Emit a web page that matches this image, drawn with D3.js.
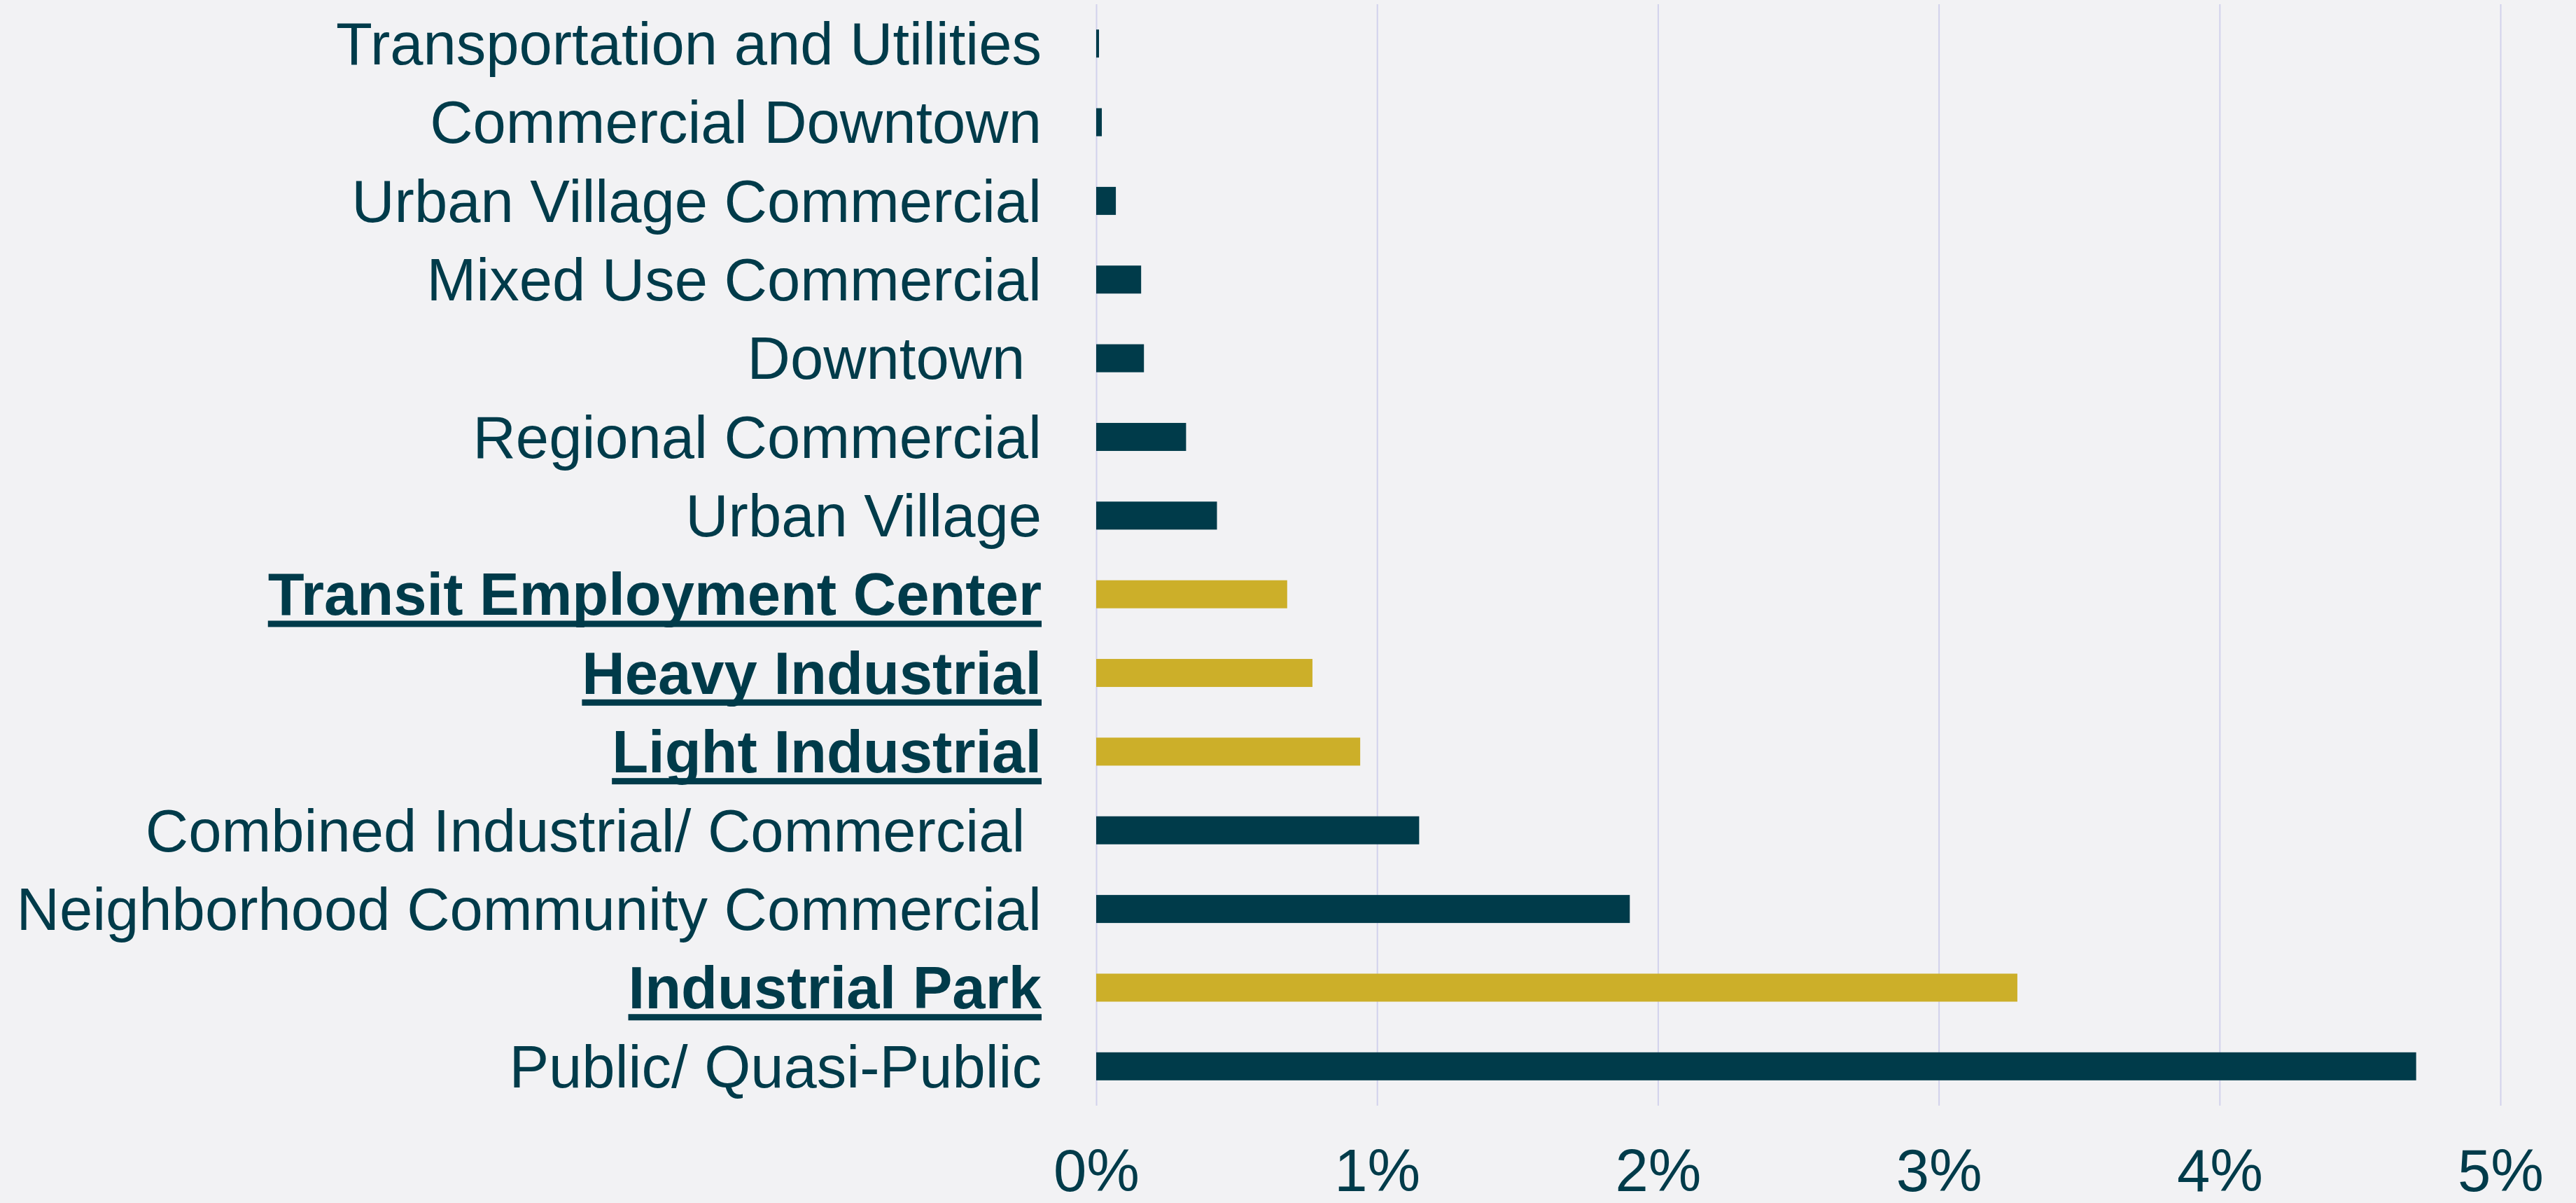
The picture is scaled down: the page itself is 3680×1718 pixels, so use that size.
<!DOCTYPE html>
<html>
<head>
<meta charset="utf-8">
<script src="https://cdn.jsdelivr.net/npm/d3@7"></script>
<style>
  html, body { margin: 0; padding: 0; background: #F2F2F4; }
  svg { display: block; }
  text { font-family: "Liberation Sans", Arial, sans-serif; fill: #003B4A; }
</style>
</head>
<body>
<div class="chart__container"></div>
<script>
/*-------------------------------------INIT-------------------------------------*/

const CHART__WIDTH = 3680;
const CHART__HEIGHT = 1718;

const MARGIN = {
    top: 6,
    right: 108,
    bottom: 139,
    left: 1566
}

const CATEGORIES = [
    "Transportation and Utilities",
    "Commercial Downtown",
    "Urban Village Commercial",
    "Mixed Use Commercial",
    "Downtown ",
    "Regional Commercial",
    "Urban Village",
    "Transit Employment Center",
    "Heavy Industrial",
    "Light Industrial",
    "Combined Industrial/ Commercial ",
    "Neighborhood Community Commercial",
    "Industrial Park",
    "Public/ Quasi-Public"
];

// share of total, in percent
const VALUES = [0.01, 0.02, 0.07, 0.16, 0.17, 0.32, 0.43, 0.68, 0.77, 0.94, 1.15, 1.90, 3.28, 4.70];

// industrial categories are highlighted (gold, bold, underlined)
const HIGHLIGHT = ["Transit Employment Center", "Heavy Industrial", "Light Industrial", "Industrial Park"];

const X_TICKS = [0, 1, 2, 3, 4, 5];

const COLOR_DARK = "#003B4A";
const COLOR_GOLD = "#CCAF29";
const COLOR_GRID = "#D2D2EC";


/*-------------------------------------Graph-------------------------------------*/

const SVG = d3.select(".chart__container").append("svg");

SVG.attr("width", CHART__WIDTH).attr("height", CHART__HEIGHT);

const plotBottom = CHART__HEIGHT - MARGIN.bottom;

const x = d3.scaleLinear()
    .domain([0, 5])
    .range([MARGIN.left, CHART__WIDTH - MARGIN.right]);

const y = d3.scaleBand()
    .domain(CATEGORIES)
    .range([MARGIN.top, plotBottom])
    .paddingInner(0.644)
    .paddingOuter(0.322);

//Gridlines + tick labels

const xAxis = SVG.append("g")
    .attr("transform", `translate(0,${plotBottom})`)
    .call(d3.axisBottom(x)
        .tickValues(X_TICKS)
        .tickSize(-(plotBottom - MARGIN.top))
        .tickFormat(d => d + "%"));

xAxis.select(".domain").remove();
xAxis.selectAll(".tick line")
    .attr("stroke", COLOR_GRID)
    .attr("stroke-width", 2);
xAxis.selectAll(".tick text")
    .attr("y", 122)
    .attr("dy", 0)
    .attr("font-size", 85)
    .style("font-family", "'Liberation Sans', Arial, sans-serif")
    .attr("fill", COLOR_DARK);

//Bars

SVG.append("g")
    .selectAll("rect")
    .data(CATEGORIES)
    .join("rect")
    .attr("x", x(0))
    .attr("y", d => y(d))
    .attr("width", (d, i) => x(VALUES[i]) - x(0))
    .attr("height", y.bandwidth())
    .attr("fill", d => HIGHLIGHT.includes(d) ? COLOR_GOLD : COLOR_DARK);

//Category labels

const labels = SVG.append("g")
    .selectAll("g")
    .data(CATEGORIES)
    .join("g");

labels.append("text")
    .attr("x", x(0) - 78)
    .attr("y", d => y(d) + y.bandwidth() / 2)
    .attr("dy", "0.35em")
    .attr("text-anchor", "end")
    .attr("font-size", 85)
    .attr("font-weight", d => HIGHLIGHT.includes(d) ? "bold" : "normal")
    .style("white-space", "pre")
    .text(d => d);

labels.filter(d => HIGHLIGHT.includes(d))
    .each(function (d) {
        const g = d3.select(this);
        const w = g.select("text").node().getComputedTextLength();
        const base = y(d) + y.bandwidth() / 2 + 0.35 * 85;
        g.append("rect")
            .attr("x", x(0) - 78 - w)
            .attr("y", base + 8)
            .attr("width", w)
            .attr("height", 9)
            .attr("fill", COLOR_DARK);
    });
</script>
</body>
</html>
